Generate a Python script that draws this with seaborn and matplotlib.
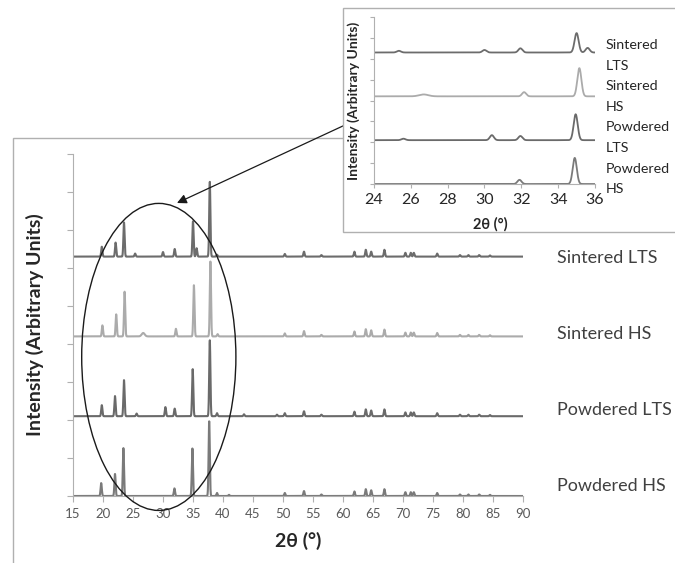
"""
XRD patterns of sintered / powdered LTS and HS samples, with a zoomed inset (24-36 deg).
"""

import numpy as np
import pandas as pd
import matplotlib.pyplot as plt
from matplotlib.patches import Ellipse, Rectangle
import seaborn as sns

sns.set_theme(style="white")
plt.rcParams["font.family"] = ["Lato", "DejaVu Sans"]

# sample names, bottom to top, with their vertical stacking offset
samples = ["Powdered HS", "Powdered LTS", "Sintered HS", "Sintered LTS"]
offsets = [0.0, 2.1, 4.2, 6.3]
line_colors = ["#7a7a7a", "#6a6a6a", "#ababab", "#6c6c6c"]

# peak tables: position (2theta deg), height (axis units)
powdered_hs_pos = [19.7, 22.0, 23.4, 31.9, 34.9, 37.7, 39.0, 41.0,
                   50.3, 53.5, 56.4, 61.9, 63.8, 64.7, 66.9, 70.4, 71.3, 71.8, 75.7, 79.5, 80.9, 82.7, 84.5]
powdered_hs_h = [0.34, 0.58, 1.26, 0.2, 1.25, 1.97, 0.08, 0.03,
                 0.08, 0.13, 0.04, 0.12, 0.18, 0.15, 0.18, 0.1, 0.1, 0.1, 0.08, 0.04, 0.04, 0.04, 0.03]

powdered_lts_pos = [19.8, 22.0, 23.5, 25.6, 30.4, 31.95, 34.95, 37.8, 39.0, 43.5, 49.0,
                    50.3, 53.5, 56.4, 61.9, 63.8, 64.7, 66.9, 70.4, 71.3, 71.8, 75.7, 79.5, 80.9, 82.7, 84.5]
powdered_lts_h = [0.29, 0.53, 0.95, 0.07, 0.24, 0.2, 1.24, 2.0, 0.08, 0.05, 0.04,
                  0.08, 0.13, 0.04, 0.12, 0.18, 0.15, 0.18, 0.1, 0.1, 0.1, 0.08, 0.04, 0.04, 0.04, 0.03]

sintered_hs_pos = [19.9, 22.2, 23.6, 26.7, 32.15, 35.15, 37.9, 39.1,
                   50.3, 53.5, 56.4, 61.9, 63.8, 64.7, 66.9, 70.4, 71.3, 71.8, 75.7, 79.5, 80.9, 82.7, 84.5]
sintered_hs_h = [0.29, 0.58, 1.18, 0.09, 0.2, 1.35, 1.97, 0.06,
                 0.08, 0.14, 0.04, 0.13, 0.19, 0.16, 0.18, 0.1, 0.1, 0.1, 0.09, 0.04, 0.04, 0.04, 0.03]

sintered_lts_pos = [19.8, 22.1, 23.5, 25.35, 30.0, 31.95, 35.0, 35.6, 37.8, 39.0,
                    50.3, 53.5, 56.4, 61.9, 63.8, 64.7, 66.9, 70.4, 71.3, 71.8, 75.7, 79.5, 80.9, 82.7, 84.5]
sintered_lts_h = [0.26, 0.37, 0.9, 0.08, 0.12, 0.2, 0.93, 0.22, 1.97, 0.05,
                  0.07, 0.13, 0.04, 0.13, 0.18, 0.13, 0.18, 0.1, 0.1, 0.1, 0.08, 0.04, 0.04, 0.04, 0.03]

peak_tables = {
    "Powdered HS": (powdered_hs_pos, powdered_hs_h),
    "Powdered LTS": (powdered_lts_pos, powdered_lts_h),
    "Sintered HS": (sintered_hs_pos, sintered_hs_h),
    "Sintered LTS": (sintered_lts_pos, sintered_lts_h),
}

main_xticks = list(range(15, 95, 5))
inset_xticks = list(range(24, 38, 2))


def pattern(two_theta, positions, heights, width):
    """Render a peak table as a smooth diffraction trace."""
    y = np.zeros_like(two_theta)
    for p, h in zip(positions, heights):
        w = 0.25 if p == 26.7 else width
        y += h * np.exp(-0.5 * ((two_theta - p) / w) ** 2)
    return y


def build_frame(lo, hi, width, n=4000):
    grid = np.linspace(lo, hi, n)
    rows = []
    for name, off in zip(samples, offsets):
        pos, h = peak_tables[name]
        rows.append(pd.DataFrame({"two_theta": grid,
                                  "intensity": off + pattern(grid, pos, h, width),
                                  "sample": name}))
    return pd.concat(rows, ignore_index=True)


W, H = 675, 563
fig = plt.figure(figsize=(W / 100, H / 100), dpi=100)


def px_rect(x0, y0, x1, y1):
    """Figure-fraction [left, bottom, width, height] from top-left pixel coords."""
    return [x0 / W, 1 - y1 / H, (x1 - x0) / W, (y1 - y0) / H]


frame_col = "#b0b0b0"
tick_col = "#595959"

# outer chart frame and inset box
fig.add_artist(Rectangle((13 / W, -0.05), 1.2, 0.05 + (H - 138) / H,
                         transform=fig.transFigure, fill=False,
                         edgecolor=frame_col, lw=1.0, zorder=1))
fig.add_artist(Rectangle((343 / W, 1 - 232 / H), 1.2, (232 - 8) / H,
                         transform=fig.transFigure, facecolor="white",
                         edgecolor=frame_col, lw=1.0, zorder=2))

# ---- main axes ----
ax = fig.add_axes(px_rect(73, 154, 523, 496))
ax.set_zorder(1)
ax.patch.set_alpha(0)
main_df = build_frame(15, 90, 0.1)
sns.lineplot(data=main_df, x="two_theta", y="intensity", hue="sample",
             palette=dict(zip(samples, line_colors)), linewidth=1.5,
             legend=False, ax=ax, estimator=None, sort=False)
ax.set_xlim(15, 90)
ax.set_ylim(0, 9)
ax.set_xticks(main_xticks)
ax.set_yticks(np.arange(0, 10, 1))
ax.set_yticklabels([])
ax.tick_params(axis="both", direction="out", length=4, width=0.8,
               color=frame_col, labelcolor=tick_col, labelsize=9.5,
               bottom=True, left=True)
ax.tick_params(axis="x", pad=5)
for side in ["top", "right"]:
    ax.spines[side].set_visible(False)
for side in ["left", "bottom"]:
    ax.spines[side].set_color(frame_col)
    ax.spines[side].set_linewidth(0.8)
ax.set_xlabel("2θ (°)", fontsize=14, fontweight="bold", color="#262626")
ax.set_ylabel("Intensity (Arbitrary Units)", fontsize=14, fontweight="bold", color="#262626")
ax.xaxis.set_label_coords(0.5, -0.105)
ax.yaxis.set_label_coords(-0.064, 0.5)

# ellipse around the 20-40 deg region
ax.add_patch(Ellipse((29.3, 3.66), 25.7, 8.08, fill=False, edgecolor="#1a1a1a",
                     lw=1.0, clip_on=False, zorder=5))

for name, off, yc in zip(samples, offsets, [486, 410, 334, 258]):
    fig.text(557 / W, 1 - yc / H, name, fontsize=13, color="#404040",
             ha="left", va="center")

# arrow from the inset to the ellipse
ax.annotate("", xy=(177, H - 203), xytext=(345, H - 125),
            xycoords="figure pixels", textcoords="figure pixels",
            arrowprops=dict(arrowstyle="-|>", color="#1a1a1a", lw=0.9,
                            mutation_scale=14, shrinkA=0, shrinkB=0),
            annotation_clip=False, zorder=6)

# ---- inset axes ----
ins = fig.add_axes(px_rect(374, 17, 595, 184))
ins.set_zorder(3)
inset_df = build_frame(24, 36, 0.11)
sns.lineplot(data=inset_df, x="two_theta", y="intensity", hue="sample",
             palette=dict(zip(samples, line_colors)), linewidth=1.3,
             legend=False, ax=ins, estimator=None, sort=False)
ins.set_xlim(24, 36)
ins.set_ylim(0, 8)
ins.set_xticks(inset_xticks)
ins.set_yticks(np.arange(0, 9, 1))
ins.set_yticklabels([])
ins.tick_params(axis="both", direction="out", length=3, width=0.8,
                color=frame_col, labelcolor="#262626", labelsize=11.5,
                bottom=True, left=True)
for side in ["top", "right"]:
    ins.spines[side].set_visible(False)
for side in ["left", "bottom"]:
    ins.spines[side].set_color(frame_col)
    ins.spines[side].set_linewidth(0.8)
ins.set_xlabel("2θ (°)", fontsize=10.5, fontweight="bold", color="#262626")
ins.set_ylabel("Intensity (Arbitrary Units)", fontsize=10, fontweight="bold", color="#262626")
ins.xaxis.set_label_coords(0.525, -0.2)
ins.yaxis.set_label_coords(-0.063, 0.5)

inset_lines = ["Sintered", "LTS", "Sintered", "HS", "Powdered", "LTS", "Powdered", "HS"]
for i, word in enumerate(inset_lines):
    fig.text(606 / W, 1 - (45 + 20.6 * i) / H, word, fontsize=10.3,
             color="#262626", ha="left", va="center")

fig.savefig("out.png", dpi=100)
